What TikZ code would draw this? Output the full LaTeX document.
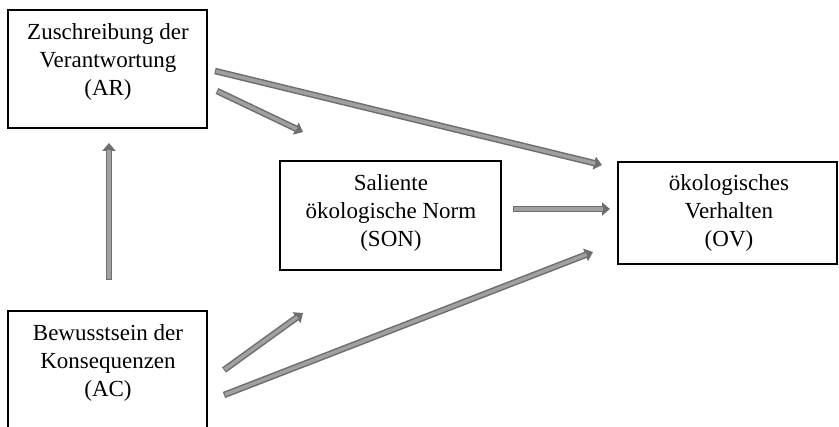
\documentclass[tikz,border=0pt]{standalone}
\usepackage{fontspec}
\setmainfont{Liberation Serif}
\usetikzlibrary{arrows.meta}
\definecolor{arrdark}{HTML}{6E6E6E}
\definecolor{arrlight}{HTML}{A0A0A0}
\tikzset{
  box/.style={draw=black, line width=1.2pt},
  lbl/.style={align=center, inner sep=0pt, font=\fontsize{23}{28}\selectfont},
  arr/.style={line width=6.5pt, draw=arrdark, -{Triangle[length=8pt,width=13pt]},
     postaction={draw=arrlight, line width=3.5pt, shorten >=7pt, shorten <=1pt, -}}
}
\begin{document}
\begin{tikzpicture}[x=1pt,y=-1pt]
\useasboundingbox (0,0) rectangle (839,427);
% boxes
\draw[box] (8,10) rectangle (207,128);
\node[inner sep=0pt] (AR) at (107.5,69) {};
\draw[box] (280,161) rectangle (501,270);
\node[inner sep=0pt] (SON) at (390.5,215.5) {};
\draw[box] (618,162) rectangle (837,264);
\node[inner sep=0pt] (OV) at (727.5,213) {};
\draw[box] (8,440) -- (8,311) -- (207,311) -- (207,440);
\node[inner sep=0pt] (AC) at (107.5,370) {};
% labels
\node[lbl] (ARt) at (108,62) {Zuschreibung der\\Verantwortung\\(AR)};
\node[lbl] (SONt) at (391,213) {Saliente\\ökologische Norm\\(SON)};
\node[lbl] (OVt) at (729,213) {ökologisches\\Verhalten\\(OV)};
\node[lbl] (ACt) at (108,363) {Bewusstsein der\\Konsequenzen\\(AC)};
% connector end points
\coordinate (a1) at (215,71);
\coordinate (a2) at (602,165);
\coordinate (b1) at (217,91);
\coordinate (b2) at (303,132);
\coordinate (c1) at (513,209);
\coordinate (c2) at (610,209);
\coordinate (d1) at (224,370);
\coordinate (d2) at (303,313);
\coordinate (e1) at (224,395);
\coordinate (e2) at (593,252);
\coordinate (f1) at (109,280);
\coordinate (f2) at (109,143);
% arrows
\draw[arr] (a1) -- (a2);
\draw[arr] (b1) -- (b2);
\draw[arr] (c1) -- (c2);
\draw[arr] (d1) -- (d2);
\draw[arr] (e1) -- (e2);
\draw[arr] (f1) -- (f2);
\end{tikzpicture}
\end{document}
